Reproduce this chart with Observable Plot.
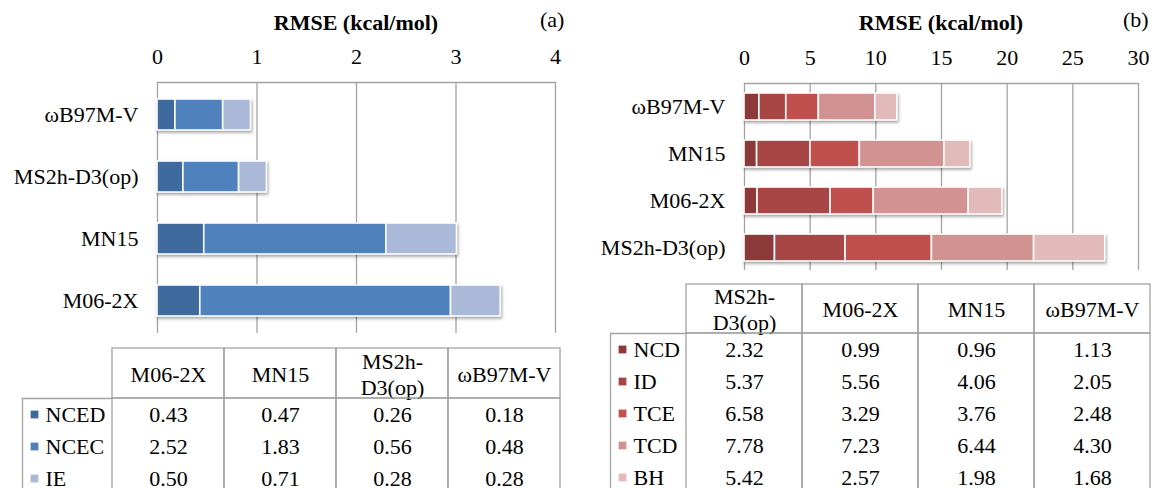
<!DOCTYPE html>
<html>
<head>
<meta charset="utf-8">
<script src="https://cdn.jsdelivr.net/npm/d3@7"></script>
<script src="https://cdn.jsdelivr.net/npm/@observablehq/plot@0.6"></script>
<style>
  html, body { margin: 0; padding: 0; background: #fff; width: 1157px; height: 488px; overflow: hidden; }
  body { position: relative; font-family: "Liberation Serif", "Times New Roman", serif; color: #000; }
  .abs { position: absolute; }
  .title { font-weight: bold; font-size: 22px; white-space: nowrap; transform: translateX(-50%); }
  .tag { font-size: 22px; }
  g[aria-label="bar"] { filter: drop-shadow(1.5px 2px 1.5px rgba(0,0,0,0.35)); }
</style>
</head>
<body>
<script>
// ---------- Panel (a) data ----------
const methodsA = ["M06-2X", "MN15", "MS2h-D3(op)", "ωB97M-V"];
const headerA = ["M06-2X", "MN15", "MS2h-\nD3(op)", "ωB97M-V"];
const barOrderA = ["ωB97M-V", "MS2h-D3(op)", "MN15", "M06-2X"];
const seriesA = ["NCED", "NCEC", "IE"];
const colorsA = ["#3F6A9D", "#4F81BD", "#AAB9D8"];
const ncedA = [0.43, 0.47, 0.26, 0.18];
const ncecA = [2.52, 1.83, 0.56, 0.48];
const ieA = [0.50, 0.71, 0.28, 0.28];
const ticksA = [0, 1, 2, 3, 4];

// ---------- Panel (b) data ----------
const methodsB = ["MS2h-D3(op)", "M06-2X", "MN15", "ωB97M-V"];
const headerB = ["MS2h-\nD3(op)", "M06-2X", "MN15", "ωB97M-V"];
const barOrderB = ["ωB97M-V", "MN15", "M06-2X", "MS2h-D3(op)"];
const seriesB = ["NCD", "ID", "TCE", "TCD", "BH"];
const colorsB = ["#8D3939", "#A84646", "#C0504D", "#D39292", "#E2BABA"];
const ncdB = [2.32, 0.99, 0.96, 1.13];
const idB = [5.37, 5.56, 4.06, 2.05];
const tceB = [6.58, 3.29, 3.76, 2.48];
const tcdB = [7.78, 7.23, 6.44, 4.30];
const bhB = [5.42, 2.57, 1.98, 1.68];
const ticksB = [0, 5, 10, 15, 20, 25, 30];

const titleText = "RMSE (kcal/mol)";

// ---------- helpers ----------
function tidy(methods, series, arrays) {
  const rows = [];
  series.forEach((s, i) => methods.forEach((m, j) => rows.push({method: m, series: s, value: arrays[i][j]})));
  return rows;
}
const rowsA = tidy(methodsA, seriesA, [ncedA, ncecA, ieA]);
const rowsB = tidy(methodsB, seriesB, [ncdB, idB, tceB, tcdB, bhB]);

const FONT = "'Liberation Serif', 'Times New Roman', serif";
const GRID = "#A3A3A3";
const baseStyle = {fontFamily: FONT, fontSize: "22px", color: "#000", background: "transparent", overflow: "visible"};

function place(node, left, top) {
  node.classList.add("abs");
  node.style.left = left + "px";
  node.style.top = top + "px";
  document.body.appendChild(node);
}
function div(cls, text, left, top) {
  const d = document.createElement("div");
  d.className = cls;
  d.textContent = text;
  place(d, left, top);
}

function chart(o) {
  return Plot.plot({
    width: o.width, height: o.height,
    marginLeft: o.ml, marginRight: o.mr, marginTop: o.mt, marginBottom: o.mb,
    style: baseStyle,
    x: {domain: [o.ticks[0], o.ticks[o.ticks.length - 1]]},
    y: {domain: o.order, paddingInner: o.pi, paddingOuter: o.po},
    color: {domain: o.series, range: o.colors},
    marks: [
      Plot.gridX(o.ticks, {stroke: GRID, strokeOpacity: 1, strokeWidth: 1.3}),
      Plot.frame({anchor: "top", stroke: GRID, strokeWidth: 1.3}),
      Plot.barX(o.rows, {x: "value", y: "method", fill: "series", stroke: "white", strokeWidth: 1.6}),
      Plot.axisX(o.ticks, {anchor: "top", tickSize: 0, tickPadding: 19, label: null, fontSize: 22}),
      Plot.axisY({anchor: "left", tickSize: 0, tickPadding: 19, label: null, fontSize: 22})
    ]
  });
}

function headerPlot(o) {
  return Plot.plot({
    width: o.width, height: o.height,
    marginLeft: o.ml, marginRight: o.mr, marginTop: 1, marginBottom: 1,
    style: baseStyle,
    x: {type: "band", domain: o.methods, padding: 0, axis: null},
    marks: [
      Plot.cell(o.methods, {x: d => d, fill: "none", stroke: GRID, strokeWidth: 1.3}),
      Plot.text(o.methods, {x: d => d, text: (d, i) => o.labels[i], frameAnchor: "middle", fontSize: 22, lineHeight: 1.18})
    ]
  });
}

function dataPlot(o) {
  return Plot.plot({
    width: o.width, height: o.height,
    marginLeft: o.ml, marginRight: o.mr, marginTop: 0, marginBottom: o.mb,
    style: baseStyle,
    x: {type: "band", domain: o.methods, padding: 0, axis: null},
    y: {type: "band", domain: o.series, padding: 0, axis: null},
    marks: [
      Plot.cell(o.methods, {x: d => d, fill: "none", stroke: GRID, strokeWidth: 1.3}),
      Plot.text(o.rows, {x: "method", y: "series", text: d => d.value.toFixed(2), fontSize: 22})
    ]
  });
}

function legendPlot(o) {
  return Plot.plot({
    width: o.width, height: o.height,
    marginLeft: 1, marginRight: 1, marginTop: 1, marginBottom: o.mb,
    style: baseStyle,
    y: {type: "band", domain: o.series, padding: 0, axis: null},
    color: {domain: o.series, range: o.colors},
    marks: [
      Plot.frame({anchor: "left", stroke: GRID, strokeWidth: 1.3}),
      Plot.frame({anchor: "top", stroke: GRID, strokeWidth: 1.3}),
      Plot.dot(o.series, {y: d => d, fill: d => d, symbol: "square", r: 4.4, frameAnchor: "left", dx: 12}),
      Plot.text(o.series, {y: d => d, text: d => d, frameAnchor: "left", dx: 23, textAnchor: "start", fontSize: 22})
    ]
  });
}

// ---------- Panel (a) ----------
place(chart({width: 580, height: 340, ml: 157, mr: 25, mt: 82, mb: 7, ticks: ticksA, order: barOrderA,
  pi: 0.5, po: 0.25, series: seriesA, colors: colorsA, rows: rowsA}), 0, 0);
div("title", titleText, 356, 10);
div("tag", "(a)", 540, 7);
place(headerPlot({width: 580, height: 52, ml: 111, mr: 19, methods: methodsA, labels: headerA}), 0, 347);
place(dataPlot({width: 580, height: 100, ml: 111, mr: 19, mb: 4, methods: methodsA, series: seriesA, rows: rowsA}), 0, 398);
place(legendPlot({width: 91, height: 101, mb: 4, series: seriesA, colors: colorsA}), 21, 397);

// ---------- Panel (b) ----------
place(chart({width: 577, height: 280, ml: 164, mr: 19, mt: 83, mb: 10, ticks: ticksB, order: barOrderB,
  pi: 0.43, po: 0.2, series: seriesB, colors: colorsB, rows: rowsB}), 580, 0);
div("title", titleText, 941, 10);
div("tag", "(b)", 1123, 7);
place(headerPlot({width: 577, height: 51, ml: 106, mr: 7, methods: methodsB, labels: headerB}), 580, 283);
place(dataPlot({width: 577, height: 165, ml: 106, mr: 7, mb: 5, methods: methodsB, series: seriesB, rows: rowsB}), 580, 333);
place(legendPlot({width: 78, height: 166, mb: 5, series: seriesB, colors: colorsB}), 609, 332);
</script>
</body>
</html>
